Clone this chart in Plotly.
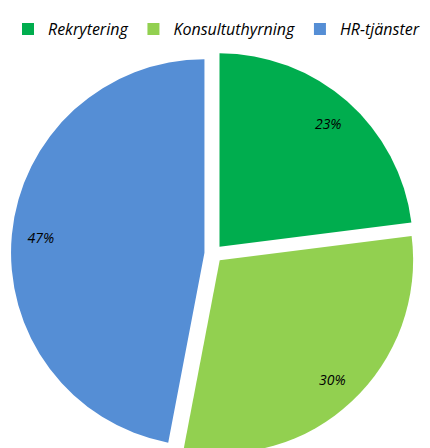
import plotly.graph_objects as go

labels = ["Rekrytering", "Konsultuthyrning", "HR-tjänster"]
values = [23, 30, 47]
colors = ["#00AD4E", "#92D050", "#558ED5"]
pulls = [0.047, 0.047, 0.047]

FONT = "Open Sans"

# Slices
fig = go.Figure(go.Pie(
    labels=labels,
    values=values,
    marker=dict(colors=colors, line=dict(width=0)),
    pull=pulls,
    sort=False,
    direction="clockwise",
    rotation=0,
    textinfo="none",
    hoverinfo="skip",
))

# Transparent ring on top only to place the percentage labels near the rim
fig.add_trace(go.Pie(
    labels=labels,
    values=values,
    marker=dict(colors=["rgba(0,0,0,0)"] * 3, line=dict(width=0)),
    pull=pulls,
    hole=0.7,
    sort=False,
    direction="clockwise",
    rotation=0,
    texttemplate="%{percent:.0%}",
    textposition="inside",
    insidetextorientation="horizontal",
    textfont=dict(family=FONT, size=14, color="black", style="italic"),
    hoverinfo="skip",
    showlegend=False,
))

fig.update_layout(
    width=430, height=448,
    margin=dict(l=3, r=22, t=43, b=0),
    paper_bgcolor="white",
    plot_bgcolor="white",
    showlegend=True,
    legend=dict(
        orientation="h",
        x=1.02, xanchor="right",
        y=1.054, yanchor="middle",
        font=dict(family=FONT, size=16, color="black", style="italic"),
        itemwidth=30,
    ),
)

fig.write_html("out.html")
